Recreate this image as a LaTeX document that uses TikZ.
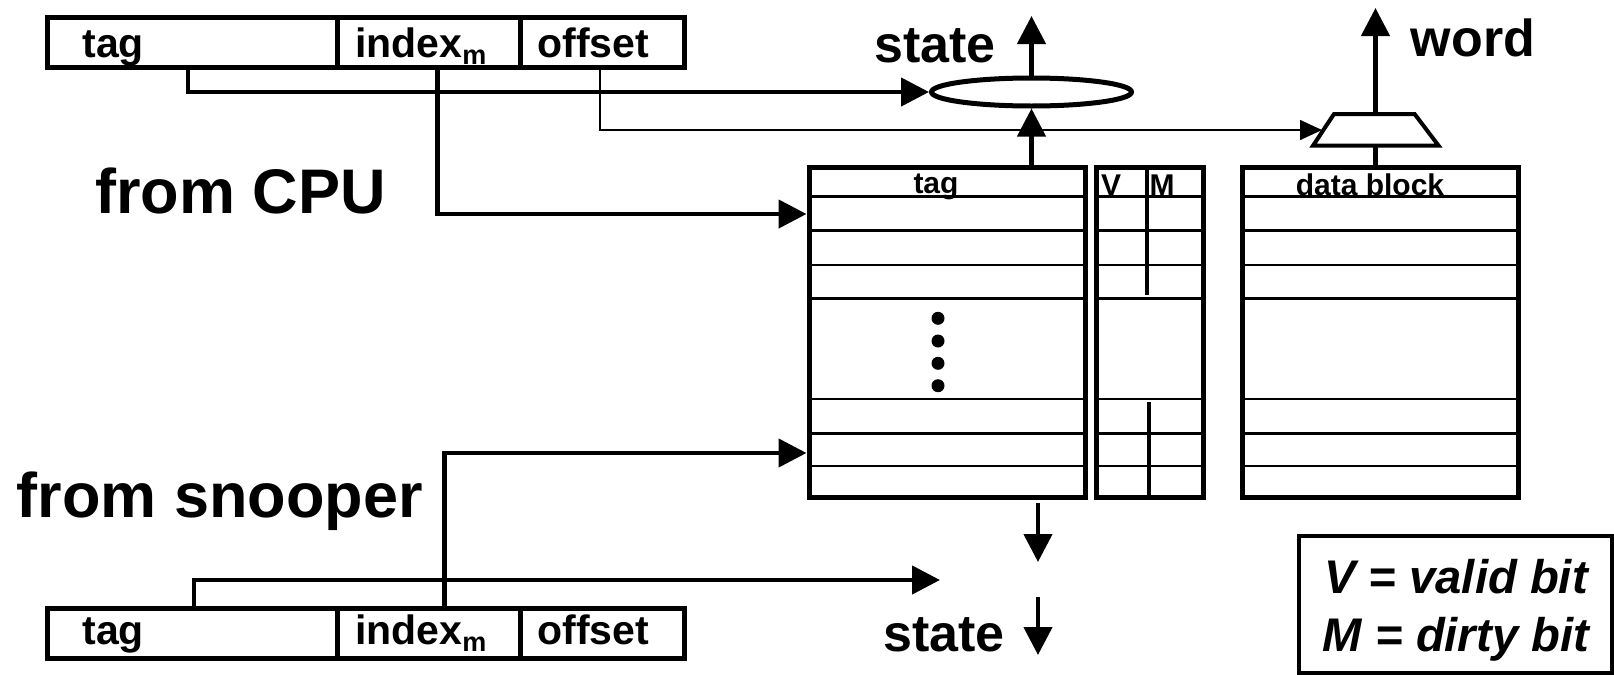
\documentclass[tikz,border=0pt]{standalone}
\usepackage{fontspec}
\setmainfont{Liberation Sans}
\usetikzlibrary{shapes.geometric,arrows.meta,fit,calc}

\begin{document}
\begin{tikzpicture}[x=0.5pt,y=-0.5pt,
  fld/.style={draw, line width=2.5pt, inner sep=0pt},
  tbl/.style={draw, line width=2.5pt, inner sep=0pt},
  rowline/.style={line width=1.3pt},
  divline/.style={line width=2pt},
  wire/.style={line width=2.25pt},
  arr/.style={wire, -{Triangle[length=14pt,width=14pt]}},
  thinarr/.style={line width=0.8pt, -{Triangle[length=11pt,width=10pt]}},
  addr/.style={font=\fontsize{20.5pt}{24pt}\selectfont\bfseries, inner sep=0pt, anchor=base west},
  big/.style={font=\fontsize{31.5pt}{36pt}\selectfont\bfseries, inner sep=0pt, anchor=base west},
  lbl/.style={font=\fontsize{26pt}{30pt}\selectfont\bfseries, inner sep=0pt, anchor=base},
  hdr/.style={font=\fontsize{15pt}{18pt}\selectfont\bfseries, inner sep=0pt, anchor=base},
  legtxt/.style={font=\fontsize{23.6pt}{28pt}\selectfont\bfseries\itshape, inner sep=0pt, anchor=base},
  dot/.style={circle, fill, inner sep=0pt, minimum size=6.5pt},
]
\useasboundingbox (0,0) rectangle (1614,675);
\newcommand{\idxm}{index\raisebox{-3.5pt}{\fontsize{13.5pt}{16pt}\selectfont m}}

% address from the CPU
\node[fld, fit={(47,17.5) (337,67)}] (ctagf) {};
\node[fld, fit={(337,17.5) (520,67)}] (cidxf) {};
\node[fld, fit={(520,17.5) (684,67)}] (cofff) {};
\node[addr] (ctagt) at (82,57) {tag};
\node[addr] (cidxt) at (355,57) {\idxm};
\node[addr] (cofft) at (537,57) {offset};

% address from the snooper
\node[fld, fit={(47,608.5) (337,658)}] (stagf) {};
\node[fld, fit={(337,608.5) (520,658)}] (sidxf) {};
\node[fld, fit={(520,608.5) (684,658)}] (sofff) {};
\node[addr] (stagt) at (82,644) {tag};
\node[addr] (sidxt) at (355,644) {\idxm};
\node[addr] (sofft) at (537,644) {offset};

\node[big] (fromcpu) at (95,213) {from CPU};
\node[big] (fromsn) at (16.5,517) {from snooper};

% tag, state and data arrays
\node[tbl, fit={(809,167.5) (1085,497.5)}] (tagarr) {};
\node[tbl, fit={(1096,167.5) (1203,497.5)}] (vmarr) {};
\node[tbl, fit={(1242.5,167.5) (1518.5,497.5)}] (datarr) {};
\foreach \r in {196.7,230.7,265,298.3,399,433.3,466} {
  \foreach \t in {tagarr,vmarr,datarr}
    \draw[rowline] (\t.west |- 0,\r) -- (\t.east |- 0,\r);
}
\draw[divline] (1147,167.5) -- (1147,295);
\draw[divline] (1149,402) -- (1149,497.5);
\node[hdr] (tagh) at (936,193) {tag};
\node[hdr] (vh) at (1111,195) {V};
\node[hdr] (mh) at (1162,195) {M};
\node[hdr] (datah) at (1370,195) {data block};
\foreach \y [count=\i] in {318.3,341,363.3,385.7}
  \node[dot] (dot\i) at (938,\y) {};

% tag comparator
\node[draw, ellipse, line width=2.5pt, minimum width=100pt, minimum height=14pt, inner sep=0pt] (cmp) at (1031.5,92) {};

% word select
\draw[line width=2pt, line join=miter] (1334,114) -- (1414.6,114) -- (1438.6,145.7) -- (1313,145.7) -- cycle;
\coordinate (muxl) at (1322,130);
\coordinate (muxt) at (1375.5,113);
\coordinate (muxb) at (1375.5,146.7);

\node[lbl] (statet) at (935,62) {state};
\node[lbl] (word) at (1473,56) {word};
\node[lbl] (stateb) at (944,651) {state};

\coordinate (stateup) at (1031,16);
\coordinate (wordup) at (1375,8);
\coordinate (snoopout) at (940,580);
\coordinate (dn1) at (1038,503);
\coordinate (dn2) at (1038,597);

% CPU side connections
\draw[arr] ([xshift=-2pt]ctagf.south) |- (cmp.west);
\draw[arr] ([xshift=4.5pt]cidxf.south) |- (tagarr.west |- 0,214);
\draw[thinarr] ([xshift=-1pt]cofff.south) |- (muxl);
\draw[arr] (tagarr.north -| cmp.south) -- (cmp.south);
\draw[arr] (cmp.north) -- (cmp.north |- stateup);
\draw[arr] (muxt) -- (muxt |- wordup);
\draw[wire] (datarr.north -| muxb) -- (muxb);

% snooper side connections
\draw[arr] ([xshift=1pt]stagf.north) |- (snoopout);
\draw[arr] ([xshift=8pt]sidxf.north) |- (tagarr.west |- 0,453);
\draw[arr] (dn1) -- ++(0,59);
\draw[arr] (dn2) -- ++(0,58);

% legend
\node[draw, line width=2pt, fit={(1299,535.5) (1611.5,673)}, inner sep=0pt] (legend) {};
\node[legtxt] (legv) at (1456,593) {V = valid bit};
\node[legtxt] (legm) at (1456,651) {M = dirty bit};
\end{tikzpicture}
\end{document}
